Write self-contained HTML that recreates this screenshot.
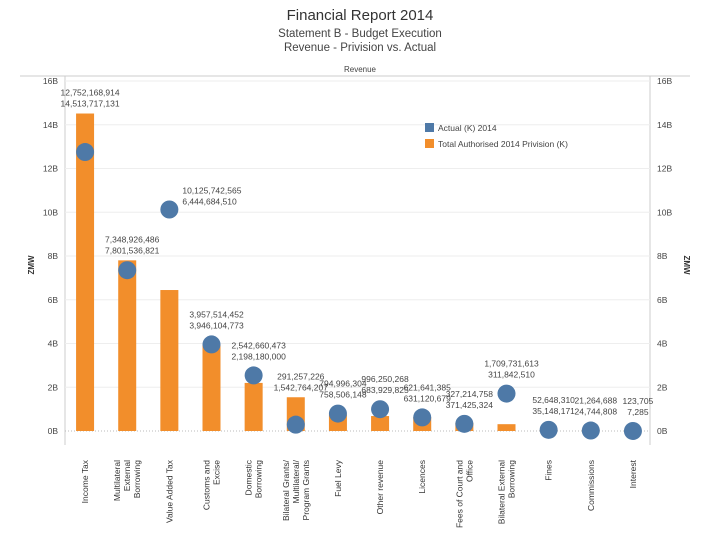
<!DOCTYPE html>
<html><head><meta charset="utf-8"><style>
body{margin:0;background:#fff;font-family:"Liberation Sans",sans-serif}
</style></head><body>
<svg id="chart" width="720" height="540" xmlns="http://www.w3.org/2000/svg">
<text x="360" y="20" text-anchor="middle" font-size="15" fill="#333">Financial Report 2014</text>
<text x="360" y="37" text-anchor="middle" font-size="11.5" fill="#444">Statement B - Budget Execution</text>
<text x="360" y="51" text-anchor="middle" font-size="11.5" fill="#444">Revenue - Privision vs. Actual</text>
<text x="360" y="72" text-anchor="middle" font-size="8" fill="#444">Revenue</text>
<line x1="20" y1="76" x2="690" y2="76" stroke="#ccc"/>
<line x1="65" y1="76" x2="65" y2="445" stroke="#ccc"/>
<line x1="650" y1="76" x2="650" y2="445" stroke="#ccc"/>
<text transform="translate(34,265) rotate(-90)" text-anchor="middle" font-size="8" font-weight="bold" fill="#333">ZMW</text>
<text transform="translate(684,265) rotate(90)" text-anchor="middle" font-size="8" font-weight="bold" fill="#333">ZMW</text>
<g id="grid"></g><g id="marks"></g><g id="labels"></g>
<g>
<rect x="425" y="123" width="9" height="9" fill="#4E79A7"/>
<text x="438" y="131" font-size="8.5" fill="#444">Actual (K) 2014</text>
<rect x="425" y="139" width="9" height="9" fill="#F28E2B"/>
<text x="438" y="147" font-size="8.5" fill="#444">Total Authorised 2014 Privision (K)</text>
</g>
</svg>
<script>
const categories=[["Income Tax"],["Multilateral","External","Borrowing"],["Value Added Tax"],["Customs and","Excise"],["Domestic","Borrowing"],["Bilateral Grants/","Multilateral/","Program Grants"],["Fuel Levy"],["Other revenue"],["Licences"],["Fees of Court and","Office"],["Bilateral External","Borrowing"],["Fines"],["Commissions"],["Interest"]];
const actual=[12752168914,7348926486,10125742565,3957514452,2542660473,291257226,794996304,996250268,621641385,327214758,1709731613,52648310,21264688,123705];
const provision=[14513717131,7801536821,6444684510,3946104773,2198180000,1542764207,758506148,683929825,631120679,371425324,311842510,35148171,24744808,7285];
const yTicks=[0,2,4,6,8,10,12,14,16];
const NS="http://www.w3.org/2000/svg";
const X0=64,X1=654,Y0=431,Y1=81;
const yScale=v=>Y0-(v/16e9)*(Y0-Y1);
const band=(X1-X0)/categories.length;
const xScale=i=>X0+band*(i+0.5);
const fmt=n=>n.toLocaleString("en-US");
function mk(tag,attrs,parent){const e=document.createElementNS(NS,tag);for(const k in attrs)e.setAttribute(k,attrs[k]);parent.appendChild(e);return e;}
const grid=document.getElementById("grid"),marks=document.getElementById("marks"),labels=document.getElementById("labels");
yTicks.forEach(t=>{const y=yScale(t*1e9);
 const l=mk("line",{x1:65,x2:650,y1:y,y2:y,stroke:t==0?"#bbb":"#eee","stroke-dasharray":t==0?"1,2":"none"},grid);
 
 
 const lab=(t<10?"0":"")+t+"B";
 const a=mk("text",{x:58,y:y+3,"text-anchor":"end","font-size":"8.5",fill:"#444"},grid);a.textContent=t==0?"0B":t+"B";
 
 
 const b=mk("text",{x:657,y:y+3,"font-size":"8.5",fill:"#444"},grid);b.textContent=t==0?"0B":t+"B";
 
 
});
categories.forEach((c,i)=>{const cx=xScale(i);
 const by=yScale(provision[i]);
 const bar=mk("rect",{x:cx-9,y:by,width:18,height:Y0-by,fill:"#F28E2B"},marks);
 
 
 const cy=yScale(actual[i]);
 const dot=mk("circle",{cx:cx,cy:cy,r:9,fill:"#4E79A7"},marks);
 
 
 const top=Math.min(by,cy-9);
 const right=actual[i]>provision[i]*1.4&&actual[i]>5e9;
 const lx=right?cx+13:cx+5, ly=right?cy-6:top-8;
 const t=mk("text",{x:lx,y:ly,"text-anchor":right?"start":"middle","font-size":"8.5",fill:"#444"},labels);
 
 
 const s1=mk("tspan",{x:lx,dy:-10},t);s1.textContent=fmt(actual[i]);
 const s2=mk("tspan",{x:lx,dy:11},t);s2.textContent=fmt(provision[i]);
 const xl=mk("text",{transform:`translate(${cx},460) rotate(-90)`,"text-anchor":"end","font-size":"8.5",fill:"#333"},labels);
 
 
 const n=c.length;
 c.forEach((line,j)=>{const sp=mk("tspan",{x:0,y:(j-(n-1)/2)*10+3},xl);sp.textContent=line;});
});
</script>
</body></html>
